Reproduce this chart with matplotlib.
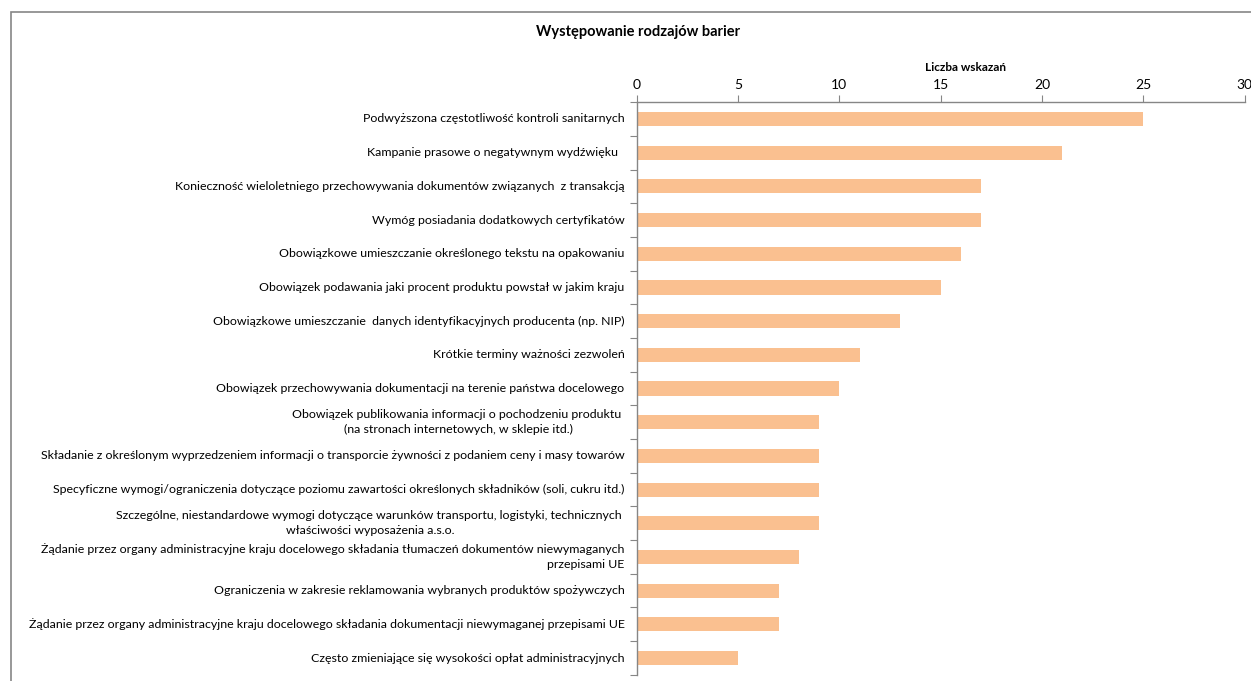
import matplotlib.pyplot as plt
from matplotlib.patches import Rectangle

categories = [
    "Podwyższona częstotliwość kontroli sanitarnych",
    "Kampanie prasowe o negatywnym wydźwięku  ",
    "Konieczność wieloletniego przechowywania dokumentów związanych  z transakcją",
    "Wymóg posiadania dodatkowych certyfikatów",
    "Obowiązkowe umieszczanie określonego tekstu na opakowaniu",
    "Obowiązek podawania jaki procent produktu powstał w jakim kraju",
    "Obowiązkowe umieszczanie  danych identyfikacyjnych producenta (np. NIP)",
    "Krótkie terminy ważności zezwoleń",
    "Obowiązek przechowywania dokumentacji na terenie państwa docelowego",
    "Obowiązek publikowania informacji o pochodzeniu produktu \n(na stronach internetowych, w sklepie itd.)",
    "Składanie z określonym wyprzedzeniem informacji o transporcie żywności z podaniem ceny i masy towarów",
    "Specyficzne wymogi/ograniczenia dotyczące poziomu zawartości określonych składników (soli, cukru itd.)",
    "Szczególne, niestandardowe wymogi dotyczące warunków transportu, logistyki, technicznych \nwłaściwości wyposażenia a.s.o.",
    "Żądanie przez organy administracyjne kraju docelowego składania tłumaczeń dokumentów niewymaganych\nprzepisami UE",
    "Ograniczenia w zakresie reklamowania wybranych produktów spożywczych",
    "Żądanie przez organy administracyjne kraju docelowego składania dokumentacji niewymaganej przepisami UE",
    "Często zmieniające się wysokości opłat administracyjnych",
]
values = [25, 21, 17, 17, 16, 15, 13, 11, 10, 9, 9, 9, 9, 8, 7, 7, 5]
xticks = [0, 5, 10, 15, 20, 25, 30]

plt.rcParams['font.family'] = ['Lato', 'DejaVu Sans']

fig = plt.figure(figsize=(12.51, 6.81), dpi=100)
ax = fig.add_axes([0.509, 0.009, 0.486, 0.841])

n = len(categories)
ypos = list(range(n))
ax.barh(ypos, values, height=0.42, color='#FAC090', zorder=2)
ax.set_ylim(n - 0.5, -0.5)
ax.set_xlim(0, 30)

gray = '#868686'
for s in ['right', 'bottom']:
    ax.spines[s].set_visible(False)
for s in ['top', 'left']:
    ax.spines[s].set_color(gray)
    ax.spines[s].set_linewidth(1.0)

ax.xaxis.tick_top()
ax.set_xticks(xticks)
ax.tick_params(axis='x', colors=gray, labelcolor='black', labelsize=10, length=5, pad=3)

# category ticks between bars, labels on the bar centres
ax.set_yticks([i - 0.5 for i in range(n + 1)])
ax.set_yticklabels([])
ax.tick_params(axis='y', colors=gray, length=5)
for i, lab in enumerate(categories):
    ax.text(-0.6, i, lab, ha='right', va='center', multialignment='center'
            if i in (9, 12) else 'right', fontsize=8.95, linespacing=1.45,
            transform=ax.transData)

fig.text(0.51, 0.953, "Występowanie rodzajów barier", ha='center', va='center',
         fontsize=10.5, fontweight='bold')
fig.text(0.772, 0.901, "Liczba wskazań", ha='center', va='center',
         fontsize=8.5, fontweight='bold')

# outer chart frame
fig.patches.append(Rectangle((0.0085, -0.1), 1.2, 1.083, transform=fig.transFigure,
                             fill=False, edgecolor=gray, linewidth=1.2))

fig.savefig('out.png', dpi=100)
